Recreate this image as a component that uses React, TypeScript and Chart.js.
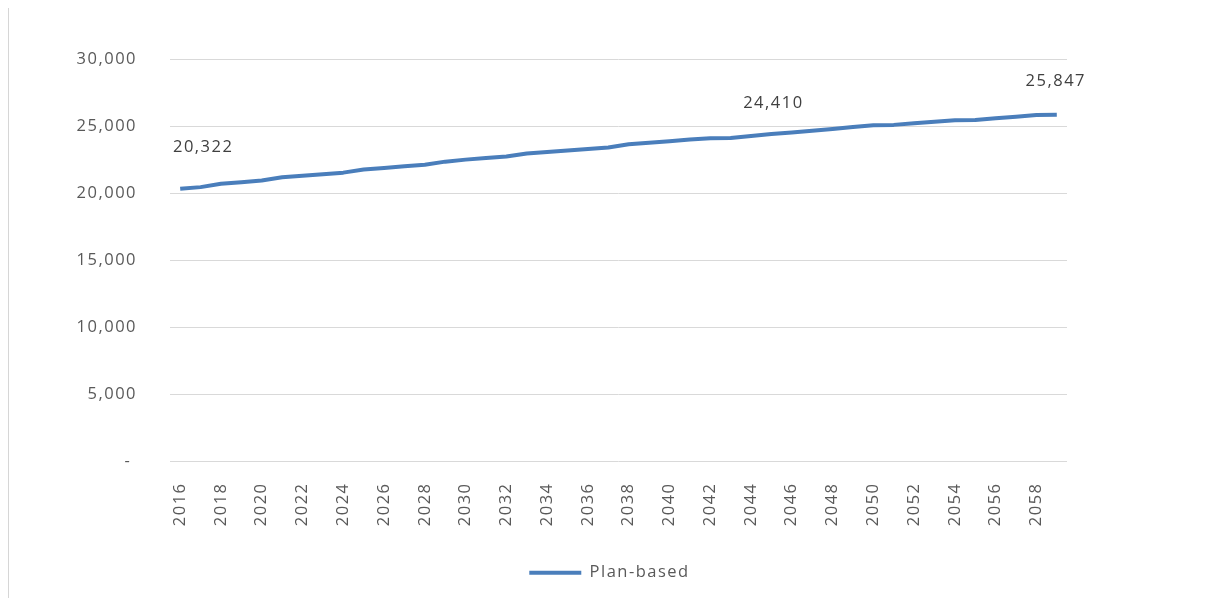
import React, { useEffect, useRef } from "react";
import { Chart, registerables } from "chart.js";

Chart.register(...registerables);

// Projection years, one category per year
const years: string[] = [
  "2016", "2017", "2018", "2019", "2020", "2021", "2022", "2023", "2024", "2025",
  "2026", "2027", "2028", "2029", "2030", "2031", "2032", "2033", "2034", "2035",
  "2036", "2037", "2038", "2039", "2040", "2041", "2042", "2043", "2044", "2045",
  "2046", "2047", "2048", "2049", "2050", "2051", "2052", "2053", "2054", "2055",
  "2056", "2057", "2058", "2059",
];

// Plan-based series values
const planBased: number[] = [
  20322, 20450, 20700, 20820, 20950, 21180, 21300, 21410, 21530, 21760,
  21880, 22000, 22120, 22350, 22500, 22620, 22740, 22960, 23070, 23180,
  23300, 23410, 23650, 23760, 23870, 24000, 24090, 24110, 24260, 24410,
  24530, 24660, 24790, 24930, 25060, 25090, 25210, 25330, 25440, 25460,
  25580, 25700, 25820, 25847,
];

// Years whose values are annotated on the line
const annotatedYears: string[] = ["2016", "2045", "2059"];

// Y axis range and step
const yMin = 0;
const yMax = 30000;
const yStep = 5000;

const FONT_FAMILY = '"Open Sans", "DejaVu Sans", sans-serif';
const FONT_SIZE = 16.5;
const TRACKING = "1.5px";
const AXIS_COLOR = "#595959";
const LABEL_COLOR = "#404040";
const LINE_COLOR = "#4A7EBB";
const GRID_COLOR = "#d9d9d9";

// Offsets (px) of each value label from its point
const labelOffsets: Record<string, [number, number]> = {
  "2016": [23, -42],
  "2045": [2, -31],
  "2059": [-1, -33],
};

// Horizontal nudge of the legend relative to the plot's centre
const LEGEND_SHIFT = -9;

// Slightly wider letter spacing for all canvas text
const trackingPlugin = {
  id: "tracking",
  beforeUpdate(chart: any) {
    chart.ctx.letterSpacing = TRACKING;
  },
  beforeDraw(chart: any) {
    chart.ctx.letterSpacing = TRACKING;
  },
};

// Moves the legend box a little to the left after layout
const legendShiftPlugin = {
  id: "legendShift",
  afterLayout(chart: any) {
    const lg = chart.legend;
    if (!lg) return;
    lg.left += LEGEND_SHIFT;
    lg.right += LEGEND_SHIFT;
  },
};

// Value labels above selected points
const valueLabelPlugin = {
  id: "valueLabels",
  afterDatasetsDraw(chart: any) {
    const meta = chart.getDatasetMeta(0);
    const ctx = chart.ctx;
    ctx.save();
    ctx.font = `${FONT_SIZE}px ${FONT_FAMILY}`;
    ctx.fillStyle = LABEL_COLOR;
    ctx.textAlign = "center";
    ctx.textBaseline = "middle";
    annotatedYears.forEach((yr) => {
      const i = years.indexOf(yr);
      const pt = meta.data[i];
      if (!pt) return;
      const [dx, dy] = labelOffsets[yr];
      ctx.fillText(planBased[i].toLocaleString("en-US"), pt.x + dx, pt.y + dy);
    });
    ctx.restore();
  },
};

export default function App() {
  const canvasRef = useRef<HTMLCanvasElement>(null);

  useEffect(() => {
    const canvas = canvasRef.current;
    if (!canvas) return;
    const font = { family: FONT_FAMILY, size: FONT_SIZE };
    const chart = new Chart(canvas, {
      type: "line",
      data: {
        labels: years,
        datasets: [
          {
            label: "Plan-based",
            data: planBased,
            borderColor: LINE_COLOR,
            backgroundColor: LINE_COLOR,
            borderWidth: 4,
            borderJoinStyle: "round",
            pointRadius: 0,
            pointHoverRadius: 0,
            tension: 0,
            fill: false,
          },
        ],
      },
      options: {
        responsive: false,
        animation: false,
        events: [],
        layout: { padding: { left: 0, right: 132, top: 51, bottom: 7 } },
        scales: {
          x: {
            offset: true,
            grid: { display: false, drawTicks: false },
            border: { display: false },
            ticks: {
              autoSkip: false,
              minRotation: 90,
              maxRotation: 90,
              padding: 21,
              color: AXIS_COLOR,
              font,
              callback: (_v: any, i: number) => (i % 2 === 0 ? years[i] : ""),
            },
            afterFit: (s: any) => {
              s.height = 93;
            },
          },
          y: {
            min: yMin,
            max: yMax,
            grid: { color: GRID_COLOR, lineWidth: 1, drawTicks: false },
            border: { display: false },
            ticks: {
              stepSize: yStep,
              padding: 33,
              color: AXIS_COLOR,
              font,
              callback: (v: any) => (Number(v) === 0 ? "- " : Number(v).toLocaleString("en-US")),
            },
            afterFit: (s: any) => {
              s.width = 161;
            },
          },
        },
        plugins: {
          legend: {
            position: "bottom",
            fullSize: false,
            labels: {
              usePointStyle: true,
              pointStyle: "line",
              pointStyleWidth: 52,
              padding: 10,
              color: AXIS_COLOR,
              font,
            },
          },
          tooltip: { enabled: false },
        },
      },
      plugins: [trackingPlugin, legendShiftPlugin, valueLabelPlugin],
    } as any);
    return () => chart.destroy();
  }, []);

  return (
    <div
      style={{
        width: 1191,
        height: 590,
        borderLeft: "1px solid #d6d6d6",
        boxSizing: "border-box",
      }}
    >
      <canvas ref={canvasRef} width={1190} height={590} style={{ display: "block" }} />
    </div>
  );
}
